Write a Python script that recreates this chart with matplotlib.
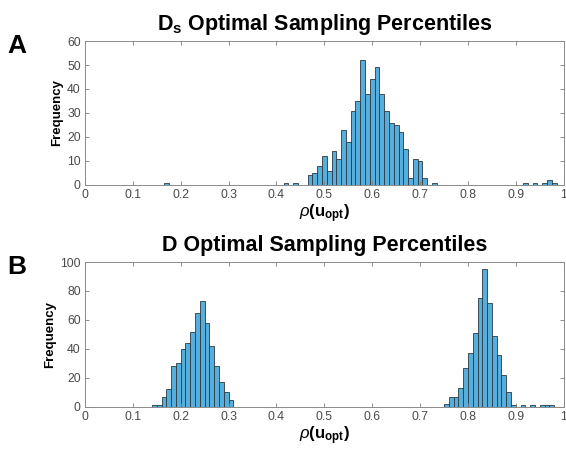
import matplotlib
matplotlib.use('Agg')
import matplotlib.pyplot as plt
import numpy as np

plt.rcParams['font.family'] = ['Liberation Sans', 'DejaVu Sans']
plt.rcParams['mathtext.fontset'] = 'custom'
plt.rcParams['mathtext.rm'] = 'Liberation Sans'
plt.rcParams['mathtext.it'] = 'Liberation Sans:italic'
plt.rcParams['mathtext.bf'] = 'Liberation Sans:bold'

# panel A: Ds optimal sampling percentiles (bin centres, width 0.01)
ds_centers = [0.17, 0.42, 0.44,
              0.47, 0.48, 0.49, 0.50, 0.51, 0.52, 0.53, 0.54, 0.55, 0.56,
              0.57, 0.58, 0.59, 0.60, 0.61, 0.62, 0.63, 0.64, 0.65, 0.66,
              0.67, 0.68, 0.69, 0.70, 0.71, 0.73,
              0.92, 0.94, 0.96, 0.97, 0.98]
ds_counts = [1, 1, 1,
             4, 5, 8, 12, 6, 14, 11, 23, 18, 31,
             35, 52, 38, 44, 49, 38, 31, 26, 25, 22,
             15, 3, 11, 10, 3, 1,
             1, 1, 1, 2, 1]

# panel B: D optimal sampling percentiles (left bin edges, width 0.01)
d_edges = [0.14, 0.15, 0.16, 0.17, 0.18, 0.19, 0.20, 0.21, 0.22, 0.23,
           0.24, 0.25, 0.26, 0.27, 0.28, 0.29, 0.30,
           0.75, 0.76, 0.77, 0.78, 0.79, 0.80, 0.81, 0.82, 0.83, 0.84,
           0.85, 0.86, 0.87, 0.88, 0.89, 0.91, 0.93, 0.95, 0.96, 0.97]
d_counts = [1, 1, 7, 12, 28, 30, 40, 44, 52, 65,
            73, 58, 42, 28, 17, 10, 5,
            2, 7, 7, 13, 27, 37, 51, 75, 95, 72,
            49, 36, 22, 10, 1, 1, 1, 1, 1, 1]

binWidth = 0.01
faceCol = '#55AEDB'
edgeCol = '#2b3a44'
xticks = [0, 0.1, 0.2, 0.3, 0.4, 0.5, 0.6, 0.7, 0.8, 0.9, 1]
xtickLabels = ['0', '0.1', '0.2', '0.3', '0.4', '0.5', '0.6', '0.7', '0.8', '0.9', '1']

fig = plt.figure(figsize=(5.66, 4.51), dpi=100)
axA = fig.add_axes([0.150, 0.590, 0.846, 0.319])
axB = fig.add_axes([0.150, 0.098, 0.846, 0.321])

axA.bar(ds_centers, ds_counts, width=binWidth, align='center',
        color=faceCol, edgecolor=edgeCol, linewidth=0.6)
axB.bar(d_edges, d_counts, width=binWidth, align='edge',
        color=faceCol, edgecolor=edgeCol, linewidth=0.6)

axA.set_ylim(0, 60)
axA.set_yticks([0, 10, 20, 30, 40, 50, 60])
axB.set_ylim(0, 100)
axB.set_yticks([0, 20, 40, 60, 80, 100])

for ax in (axA, axB):
    ax.set_xlim(0, 1)
    ax.set_xticks(xticks)
    ax.set_xticklabels(xtickLabels)
    ax.tick_params(direction='in', top=True, right=True, length=3,
                   width=0.6, color='#7a7a7a', labelsize=8.8,
                   labelcolor='#4a4a4a', pad=3)
    for s in ax.spines.values():
        s.set_color('#8a8a8a')
        s.set_linewidth(0.7)
    ax.set_ylabel('Frequency', fontsize=9.5, fontweight='bold', labelpad=3)
    ax.set_xlabel(r'$\rho\mathbf{(u_{opt})}$', fontsize=12, labelpad=1)

axA.set_title(r'$\mathbf{D_s}$ Optimal Sampling Percentiles', fontsize=15.5,
              fontweight='bold', pad=8)
axB.set_title('D Optimal Sampling Percentiles', fontsize=15.5,
              fontweight='bold', pad=8)

fig.text(0.030, 0.898, 'A', fontsize=19, fontweight='bold', ha='center', va='center')
fig.text(0.030, 0.407, 'B', fontsize=19, fontweight='bold', ha='center', va='center')

plt.savefig('out.png', dpi=100)
